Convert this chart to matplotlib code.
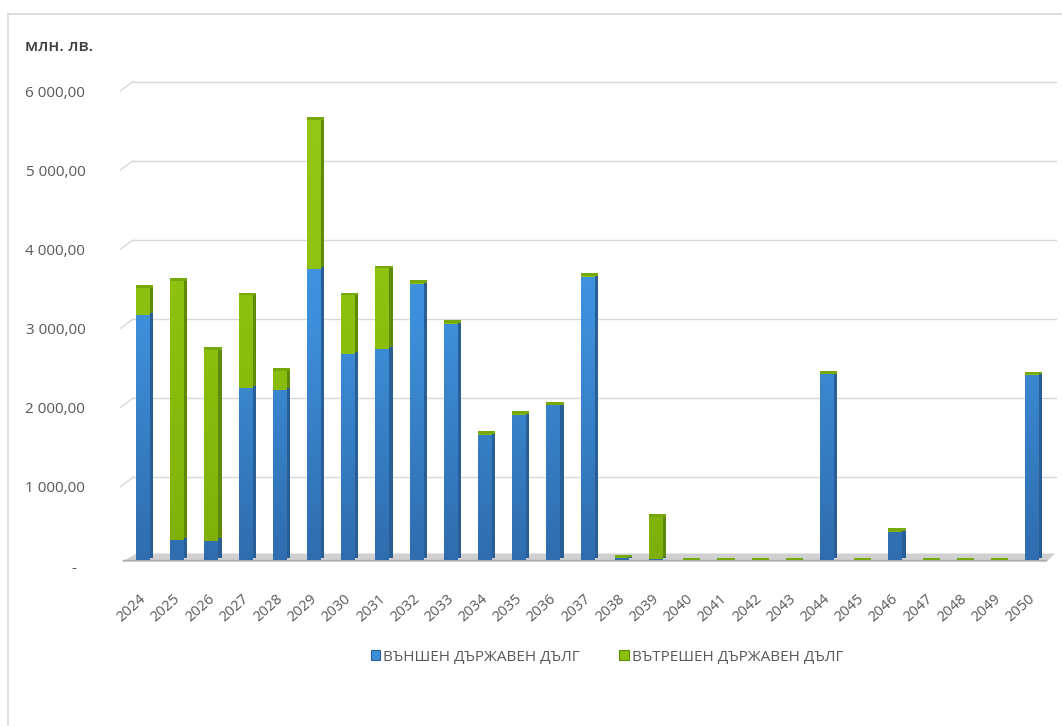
import numpy as np
import matplotlib
matplotlib.use("Agg")
import matplotlib.pyplot as plt
from matplotlib.patches import Patch
from matplotlib.colors import LinearSegmentedColormap
from matplotlib.lines import Line2D

plt.rcParams['font.family'] = ['Open Sans', 'DejaVu Sans']

# ===== Daten (млн. лв.) =====
years = [str(y) for y in range(2024, 2051)]
external_debt = [3100, 260, 250, 2180, 2150, 3680, 2610, 2670, 3490, 2990,
                 1590, 1840, 1960, 3580, 30, 15, 0, 0, 0, 0,
                 2350, 0, 365, 0, 0, 0, 2340]
domestic_debt = [340, 3270, 2410, 1170, 250, 1890, 740, 1020, 20, 15,
                 10, 10, 10, 15, 10, 540, 0, 0, 0, 0,
                 10, 0, 10, 0, 0, 0, 10]
y_ticks = [0, 1000, 2000, 3000, 4000, 5000, 6000]
y_tick_labels = ["-  ", "1 000,00", "2 000,00", "3 000,00",
                 "4 000,00", "5 000,00", "6 000,00"]
legend_labels = ["ВЪНШЕН ДЪРЖАВЕН ДЪЛГ", "ВЪТРЕШЕН ДЪРЖАВЕН ДЪЛГ"]

# Farben
blue_face, blue_side = "#3E8FDA", "#2A5E97"
green_face, green_side, green_cap = "#8DC00E", "#5E8A08", "#76A80C"
grid_col = "#D9D9D9"
text_col = "#595959"

W, H = 1062, 726
fig = plt.figure(figsize=(W / 100, H / 100), dpi=100)

# Achsen in Pixeln
ax_l, ax_r, ax_t, ax_b = 120, 1057, 50, 566
ax = fig.add_axes([ax_l / W, (H - ax_b) / H, (ax_r - ax_l) / W, (ax_b - ax_t) / H])
x = np.arange(len(years))
for s in ax.spines.values():
    s.set_visible(False)

# Hintergrund-Gitter (Rückwand, leicht schräg)
depth = 120
for v in y_ticks[1:]:
    ax.plot([-0.67, -0.29], [v - 70, v - 70 + depth], color=grid_col, lw=1, zorder=0)
    ax.plot([-0.29, 26.73], [v - 70 + depth, v - 70 + depth], color=grid_col, lw=1, zorder=0)

# Boden
ax.fill([-0.61, 26.43, 26.67, -0.18], [-13, -13, 88, 88], color="#D0D0D0", zorder=1, lw=0)
ax.fill([-0.61, 26.43, 26.46, -0.57], [-13, -13, 8, 8], color="#ABABAB", zorder=1, lw=0)

ext = np.array(external_debt, dtype=float)
dom = np.array(domestic_debt, dtype=float)
total = ext + dom

# Seitenflächen
ax.bar(x + 0.2, ext, width=0.1, bottom=30, align='edge', color=blue_side, zorder=2, lw=0)
ax.bar(x + 0.2, dom, width=0.1, bottom=ext + 30, align='edge', color=green_side, zorder=2, lw=0)

# Vorderflächen mit Verlauf
blue_bars = ax.bar(x - 0.2, ext, width=0.4, align='edge', color=blue_face, zorder=3, lw=0)
green_bars = ax.bar(x - 0.2, dom, width=0.4, bottom=ext, align='edge', color=green_face, zorder=3, lw=0)

blue_cmap = LinearSegmentedColormap.from_list("b", ["#2F6DAE", "#3E8FDA", "#4A9DE6"])
green_cmap = LinearSegmentedColormap.from_list("g", ["#7FB00A", "#8DC00E", "#96C81A"])
grad = np.linspace(0, 1, 256).reshape(-1, 1)
for bars, cmap in [(blue_bars, blue_cmap), (green_bars, green_cmap)]:
    for b in bars:
        if b.get_height() <= 0:
            continue
        im = ax.imshow(grad, cmap=cmap, aspect='auto', origin='lower',
                       extent=(-0.67, 26.73, 0, 6000), zorder=3.5)
        im.set_clip_path(b)

# Deckel
ax.bar(x - 0.2, 35, width=0.5, bottom=total, align='edge', color=green_cap, zorder=4, lw=0)

ax.set_xlim(-0.67, 26.73)
ax.set_ylim(-50, 6450)

# Achsenbeschriftungen
ax.set_yticks(np.array(y_ticks) - 70)
ax.set_yticklabels(y_tick_labels, fontsize=11, color=text_col)
ax.set_xticks(x + 0.03)
ax.set_xticklabels(years, rotation=42, ha='right', va='center', rotation_mode='anchor',
                   fontsize=10.5, color=text_col)
ax.tick_params(axis='y', length=0, pad=25)
ax.tick_params(axis='x', length=0, pad=22)

fig.text(25 / W, 1 - 47 / H, "млн. лв.", fontsize=12, color="#404040",
         fontweight='semibold', va='center', ha='left')

# Legende
handles = [Patch(facecolor=blue_face, edgecolor=blue_side, lw=0.8),
           Patch(facecolor=green_face, edgecolor=green_side, lw=0.8)]
fig.legend(handles, legend_labels, loc='center', ncol=2,
           bbox_to_anchor=(607 / W, 1 - 657 / H), frameon=False,
           handlelength=0.6, handleheight=0.6, handletextpad=0.2,
           columnspacing=2.6, labelcolor=text_col, fontsize=11)

# Rahmen
fig.add_artist(Line2D([8 / W, 1], [1 - 14 / H, 1 - 14 / H], color=grid_col, lw=1.2))
fig.add_artist(Line2D([8 / W, 8 / W], [0, 1 - 14 / H], color=grid_col, lw=1.2))

fig.savefig("out.png", dpi=100)
